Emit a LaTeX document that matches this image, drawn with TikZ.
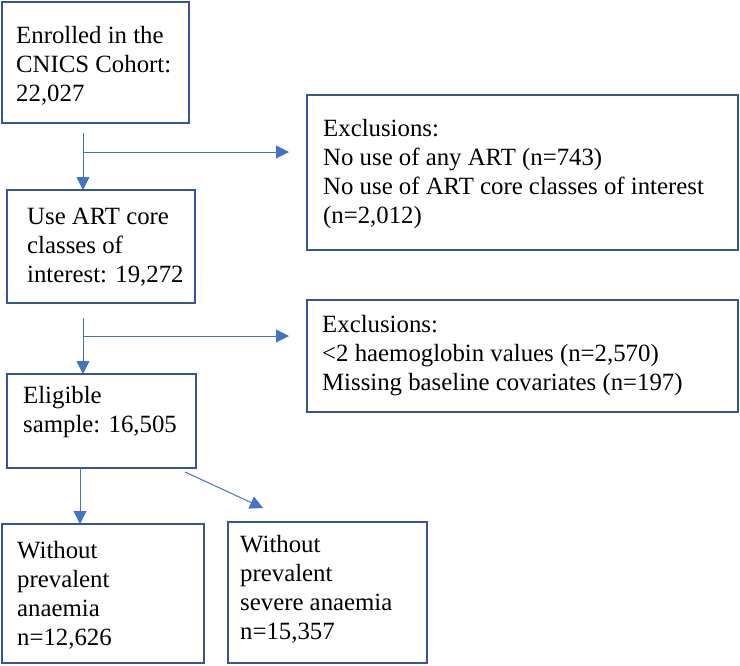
\documentclass[tikz,border=0pt]{standalone}
\usepackage{fontspec}
\setmainfont{Liberation Serif}
\usetikzlibrary{arrows.meta}
\definecolor{boxline}{RGB}{52,86,150}
\definecolor{arrline}{RGB}{68,114,196}
\begin{document}
\begin{tikzpicture}[x=1pt,y=-1pt,
  box/.style={draw=boxline, line width=1.6pt, rectangle, inner sep=0pt, outer sep=0pt, anchor=north west},
  txt/.style={inner sep=0pt, anchor=north west, align=left, text=black, font=\fontsize{24.8}{29}\selectfont},
  arr/.style={draw=arrline, line width=1pt, -{Triangle[length=13pt,width=13pt]}}]
\useasboundingbox (0,0) rectangle (740,665);
% boxes
\node[box, minimum width=187, minimum height=121] (b1) at (2,2) {};
\node[box, minimum width=188, minimum height=113] (b2) at (7,190) {};
\node[box, minimum width=189, minimum height=94] (b3) at (7,374) {};
\node[box, minimum width=431, minimum height=155] (e1) at (307,95) {};
\node[box, minimum width=431, minimum height=112] (e2) at (307,300) {};
\node[box, minimum width=202, minimum height=139] (d1) at (2,524) {};
\node[box, minimum width=199, minimum height=141] (d2) at (228,522) {};
% texts
\node[txt] (t1) at (16,26.1) {Enrolled in the\\CNICS Cohort:\\22,027};
\node[txt] (t2) at (27,207.6) {Use ART core\\classes of\\interest: 19,272};
\node[txt] (t3) at (23,386.1) {Eligible\\sample: 16,505};
\node[txt] (te1) at (323,119.1) {Exclusions:\\No use of any ART (n=743)\\No use of ART core classes of interest\\(n=2,012)};
\node[txt] (te2) at (322,315.1) {Exclusions:\\<2 haemoglobin values (n=2,570)\\Missing baseline covariates (n=197)};
\node[txt] (td1) at (17,541.1) {Without\\prevalent\\anaemia\\n=12,626};
\node[txt] (td2) at (240,535.1) {Without\\prevalent\\severe anaemia\\n=15,357};
% connectors
\coordinate (s1) at (83,133);
\draw[arr] (s1) -- (s1 |- b2.north);
\coordinate (j1) at (83,152);
\draw[arr, shorten >=18pt] (j1) -- (j1 -| e1.west);
\coordinate (s2) at (83,318);
\draw[arr] (s2) -- (s2 |- b3.north);
\coordinate (j2) at (83,336);
\draw[arr, shorten >=18pt] (j2) -- (j2 -| e2.west);
\coordinate (s3) at (80,468);
\draw[arr] (s3) -- (s3 |- d1.north);
\coordinate (s4) at (185,472);
\coordinate (s4e) at (263,508);
\draw[arr] (s4) -- (s4e);
\end{tikzpicture}
\end{document}
